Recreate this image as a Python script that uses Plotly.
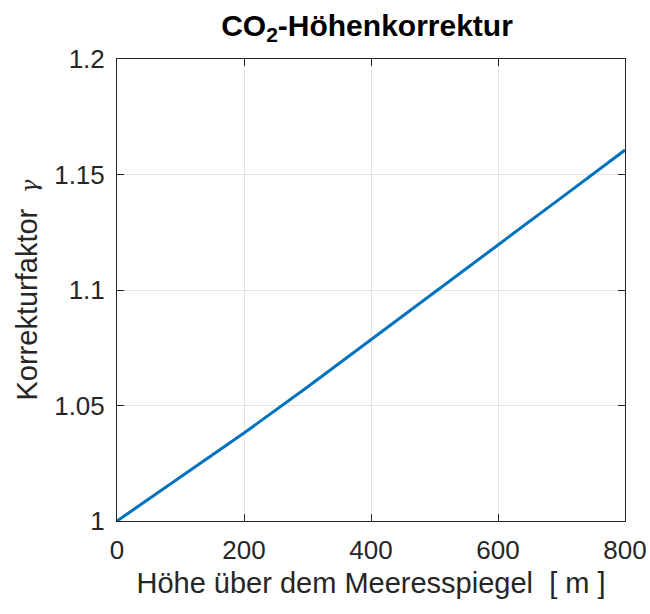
import plotly.graph_objects as go

hoehe = [0, 100, 200, 300, 400, 500, 600, 700, 800]
gamma = [1.0, 1.019, 1.0381, 1.058, 1.0784, 1.099, 1.1195, 1.140, 1.1606]

x_ticks = [0, 200, 400, 600, 800]
y_ticks = [1.0, 1.05, 1.1, 1.15, 1.2]
y_ticklabels = ["1", "1.05", "1.1", "1.15", "1.2"]

font_family = "Liberation Sans, Arial, Helvetica, sans-serif"
axis_color = "#262626"

fig = go.Figure()
fig.add_trace(go.Scatter(x=hoehe, y=gamma, mode="lines",
                         line=dict(color="#0072BD", width=3), showlegend=False))

axis_common = dict(
    showline=True, linecolor=axis_color, linewidth=1, mirror="ticks",
    ticks="inside", ticklen=7, tickcolor=axis_color,
    showgrid=True, gridcolor="#e3e3e3", gridwidth=1,
    zeroline=False, automargin=False,
    tickfont=dict(family=font_family, size=26, color=axis_color),
)

fig.update_xaxes(range=[0, 800], tickvals=x_ticks, ticklabelstandoff=6,
                 title=dict(text="Höhe über dem Meeresspiegel  [ m ]",
                            font=dict(family=font_family, size=29, color=axis_color),
                            standoff=8),
                 **axis_common)
fig.update_yaxes(range=[1.0, 1.2], tickvals=y_ticks, ticktext=y_ticklabels,
                 ticklabelstandoff=6,
                 title=dict(text="Korrekturfaktor  <span style=\"font-family:'DejaVu Serif';font-size:22px\"><i>γ</i></span>",
                            font=dict(family=font_family, size=29, color=axis_color),
                            standoff=8),
                 **axis_common)

fig.update_layout(
    width=650, height=614,
    margin=dict(l=117, r=25, t=59, b=93),
    paper_bgcolor="white", plot_bgcolor="white",
    title=dict(text="<b>CO<sub>2</sub>-Höhenkorrektur</b>",
               x=367 / 650, xanchor="center", y=1 - 25 / 614, yanchor="middle",
               font=dict(family=font_family, size=30, color="black")),
)

fig.write_html("out.html")
